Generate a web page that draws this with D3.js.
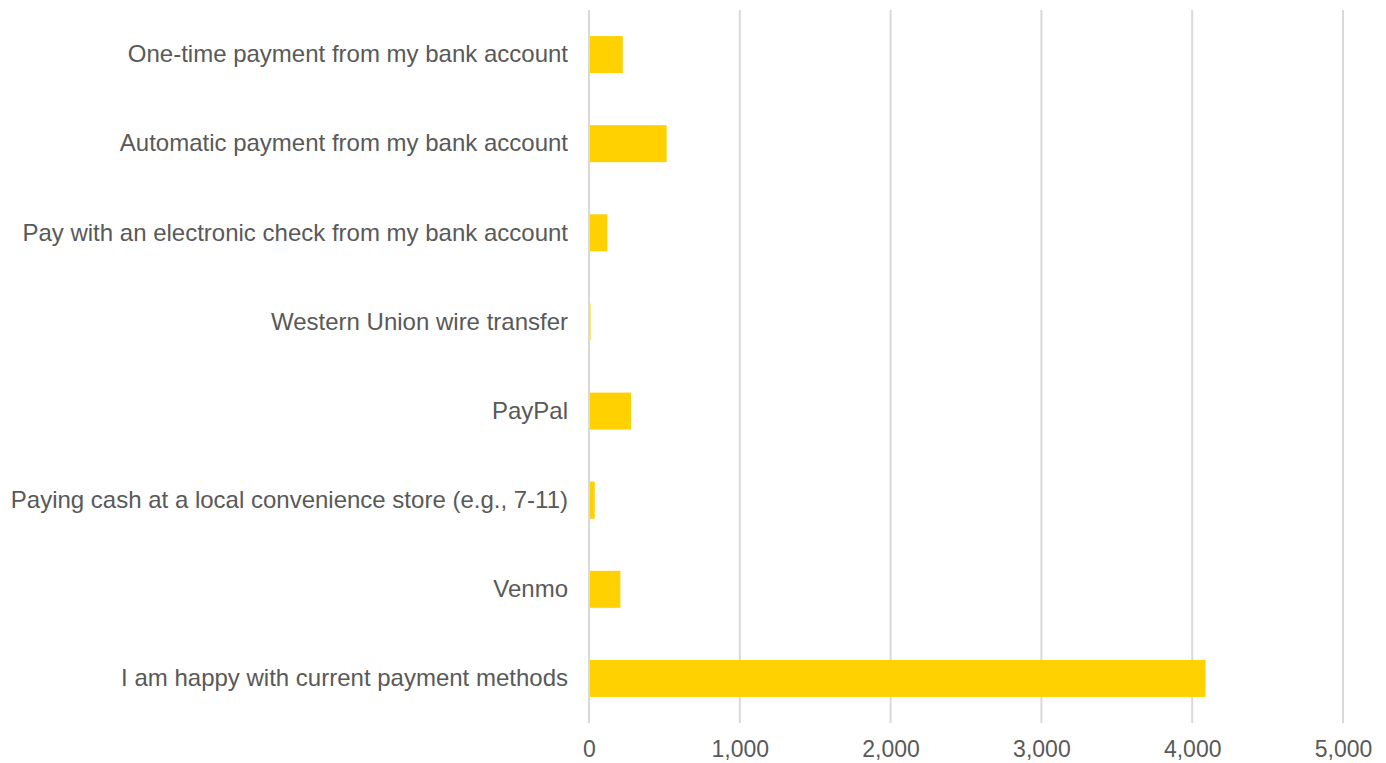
<!DOCTYPE html>
<html lang="en">
<head>
  <meta charset="UTF-8">
  <title>Payment Methods</title>
  <script src="https://d3js.org/d3.v7.min.js"></script>
  <style>
    body { margin: 0; background: #fff; }
    text { font-family: "Liberation Sans", Arial, sans-serif; fill: #595959; }
  </style>
</head>
<body>
<div id="chart-container"></div>
<script>
var categories = [
  "One-time payment from my bank account",
  "Automatic payment from my bank account",
  "Pay with an electronic check from my bank account",
  "Western Union wire transfer",
  "PayPal",
  "Paying cash at a local convenience store (e.g., 7-11)",
  "Venmo",
  "I am happy with current payment methods"
];
var counts = [224, 515, 122, 10, 279, 38, 208, 4088];
var xTicks = [0, 1000, 2000, 3000, 4000, 5000];

function drawBarChart() {
  var margin = { top: 10, right: 43, bottom: 40, left: 589 };
  var width = 1386 - margin.left - margin.right;
  var height = 763 - margin.top - margin.bottom;

  var svg = d3.select("#chart-container")
    .append("svg")
    .attr("width", 1386)
    .attr("height", 763)
    .append("g")
    .attr("transform", "translate(" + margin.left + "," + margin.top + ")");

  var x = d3.scaleLinear()
    .domain([0, 5000])
    .range([0, width]);

  var y = d3.scaleBand()
    .domain(categories)
    .range([0, height])
    .paddingInner(0.585)
    .paddingOuter(0.2925);

  // gridlines
  svg.append("g")
    .selectAll("line")
    .data(xTicks)
    .join("line")
    .attr("x1", d => x(d))
    .attr("x2", d => x(d))
    .attr("y1", 0)
    .attr("y2", height)
    .attr("stroke", "#d9d9d9")
    .attr("stroke-width", 2);

  // bars
  svg.append("g")
    .selectAll("rect")
    .data(categories)
    .join("rect")
    .attr("x", x(0) + 1)
    .attr("y", d => y(d))
    .attr("width", (d, i) => Math.max(0, x(counts[i]) - x(0) - 1))
    .attr("height", y.bandwidth())
    .attr("fill", "#ffd100");

  // x axis labels
  var xAxis = svg.append("g")
    .attr("transform", "translate(0," + height + ")")
    .call(d3.axisBottom(x).tickValues(xTicks).tickFormat(d3.format(",")).tickSize(0).tickPadding(18));
  xAxis.select(".domain").remove();
  xAxis.selectAll("text")
    .style("font-size", "23px")
    .style("font-family", "'Liberation Sans', Arial, sans-serif")
    .attr("fill", "#595959");

  // y axis labels
  var yAxis = svg.append("g")
    .call(d3.axisLeft(y).tickSize(0).tickPadding(21));
  yAxis.select(".domain").remove();
  yAxis.selectAll("text")
    .style("font-size", "24px")
    .style("font-family", "'Liberation Sans', Arial, sans-serif")
    .attr("fill", "#595959");
}

drawBarChart();
</script>
</body>
</html>
